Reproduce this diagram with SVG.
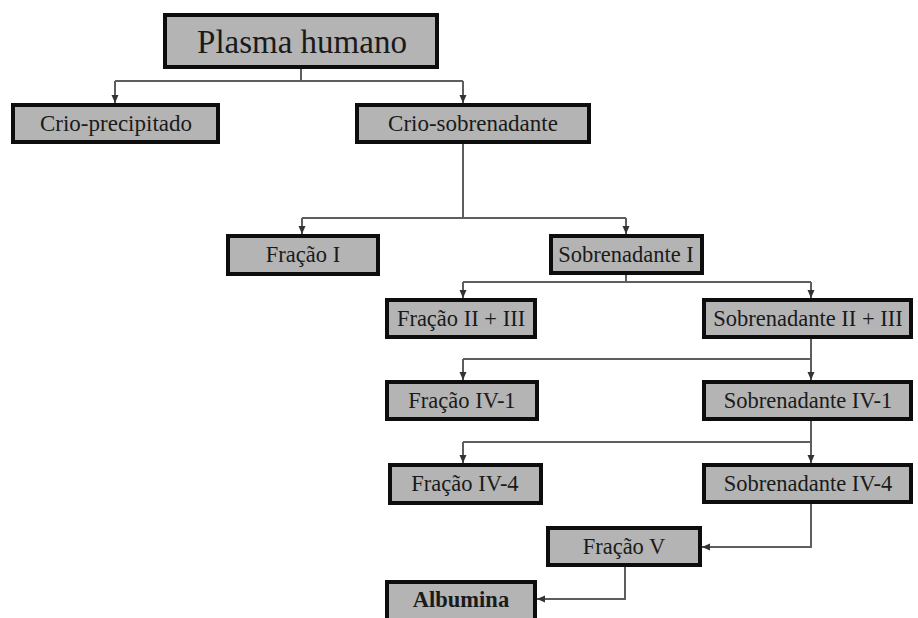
<svg xmlns="http://www.w3.org/2000/svg" width="918" height="618" viewBox="0 0 918 618">
<defs>
<marker id="ah" markerUnits="userSpaceOnUse" markerWidth="8" markerHeight="8" refX="8" refY="4" orient="auto">
<path d="M0,0.5 L8,4 L0,7.5 z" fill="#333"/>
</marker>
<style>
.box{fill:#b4b4b4;stroke:#0d0d0d;stroke-width:4}
.t{font-family:"Liberation Serif","Times New Roman",serif;font-size:22.5px;fill:#1a1a1a;text-anchor:middle}
.big{font-size:33px}
.m{font-size:23px}
.b{font-weight:bold}
.c{fill:none;stroke:#5e5e5e;stroke-width:2}
.a{fill:none;stroke:#5e5e5e;stroke-width:2;marker-end:url(#ah)}
</style>
</defs>
<rect width="918" height="618" fill="#ffffff"/>
<g id="connectors">
<path class="c" d="M301,69 V81 M115,81 H463"/>
<path class="a" d="M115,81 V103"/>
<path class="a" d="M463,81 V103"/>
<path class="c" d="M463,144 V218 M302,218 H626"/>
<path class="a" d="M302,218 V234"/>
<path class="a" d="M626,218 V234"/>
<path class="c" d="M626,274 V282 M463,282 H811"/>
<path class="a" d="M463,282 V298"/>
<path class="a" d="M811,282 V298"/>
<path class="c" d="M811,338 V359 M463,359 H811"/>
<path class="a" d="M463,359 V380"/>
<path class="a" d="M811,359 V380"/>
<path class="c" d="M811,420 V442 M463,442 H811"/>
<path class="a" d="M463,442 V463"/>
<path class="a" d="M811,442 V463"/>
<path class="a" d="M811,504 V547 H702"/>
<path class="a" d="M625,566 V599 H537"/>
</g>
<g id="plasma"><rect class="box" x="165" y="15" width="272" height="52"/><text class="t big" x="302" y="53">Plasma humano</text></g>
<g id="crio-precipitado"><rect class="box" x="13" y="105" width="205" height="37"/><text class="t m" x="116" y="131">Crio-precipitado</text></g>
<g id="crio-sobrenadante"><rect class="box" x="357" y="105" width="232" height="37"/><text class="t m" x="473" y="131">Crio-sobrenadante</text></g>
<g id="fracao-i"><rect class="box" x="228" y="236" width="150" height="38"/><text class="t" x="303" y="262">Fração I</text></g>
<g id="sobrenadante-i"><rect class="box" x="551" y="236" width="151" height="37"/><text class="t" x="626" y="262">Sobrenadante I</text></g>
<g id="fracao-ii-iii"><rect class="box" x="387" y="300" width="148" height="37"/><text class="t" x="461" y="326">Fração II + III</text></g>
<g id="sobrenadante-ii-iii"><rect class="box" x="704" y="300" width="207" height="37"/><text class="t" x="808" y="326">Sobrenadante II + III</text></g>
<g id="fracao-iv-1"><rect class="box" x="387" y="382" width="150" height="37"/><text class="t" x="462" y="408">Fração IV-1</text></g>
<g id="sobrenadante-iv-1"><rect class="box" x="704" y="382" width="207" height="37"/><text class="t" x="808" y="408">Sobrenadante IV-1</text></g>
<g id="fracao-iv-4"><rect class="box" x="390" y="465" width="151" height="38"/><text class="t" x="465" y="491">Fração IV-4</text></g>
<g id="sobrenadante-iv-4"><rect class="box" x="704" y="465" width="207" height="37"/><text class="t" x="808" y="491">Sobrenadante IV-4</text></g>
<g id="fracao-v"><rect class="box" x="548" y="528" width="152" height="37"/><text class="t" x="624" y="554">Fração V</text></g>
<g id="albumina"><rect class="box" x="387" y="582" width="148" height="40"/><text class="t b" x="461" y="607">Albumina</text></g>
</svg>
